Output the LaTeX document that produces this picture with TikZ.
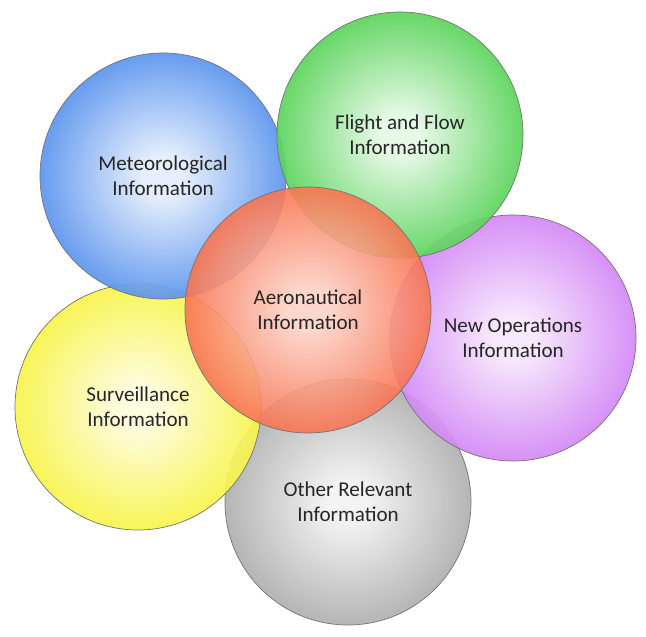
\documentclass[tikz,border=0pt]{standalone}
\usepackage{fontspec}
\newfontfamily\bubblefont{Carlito}
\usetikzlibrary{positioning, calc}

\definecolor{metblue}{RGB}{40,115,232}
\definecolor{flowgreen}{RGB}{40,198,40}
\definecolor{opspurple}{RGB}{198,100,242}
\definecolor{survyellow}{RGB}{246,240,20}
\definecolor{othgray}{RGB}{150,150,150}
\definecolor{aerored}{RGB}{246,80,36}

\colorlet{bubin}{white}
\colorlet{bubout}{black}
\pgfdeclareradialshading[bubin,bubout]{bubble}{\pgfpoint{0bp}{0bp}}{color(0bp)=(bubin); color(4bp)=(bubin); color(33bp)=(bubout); color(50bp)=(bubout)}

\tikzset{
  bubble/.style 2 args={circle, draw=black!55, line width=0.4pt, minimum size=4.92cm,
    inner sep=0pt, align=center, font=\bubblefont\fontsize{12}{14.5}\selectfont,
    text=black!85, fill opacity=0.93, text opacity=1,
    /utils/exec={\colorlet{bubin}{#1}\colorlet{bubout}{#2}}, shading=bubble}
}

\begin{document}
\begin{tikzpicture}
    \useasboundingbox (0,0) rectangle (12.92,-12.74);

    % outer circles, bottom one first
    \node[bubble={othgray!12}{othgray}] (other) at (6.96,-10.04) {Other Relevant\\Information};
    \node[bubble={survyellow!15}{survyellow}] (surv) at (2.76,-8.14) {Surveillance\\Information};
    \node[bubble={opspurple!15}{opspurple}] (newops) at (10.26,-6.76) {New Operations\\Information};
    \node[bubble={metblue!12}{metblue}] (met) at (3.26,-3.52) {Meteorological\\Information};
    \node[bubble={flowgreen!12}{flowgreen}] (flow) at (8.00,-2.70) {Flight and Flow\\Information};

    % centre circle on top
    \node[bubble={aerored!25}{aerored}, fill opacity=0.9] (aero) at (6.16,-6.20) {Aeronautical\\Information};
\end{tikzpicture}
\end{document}
